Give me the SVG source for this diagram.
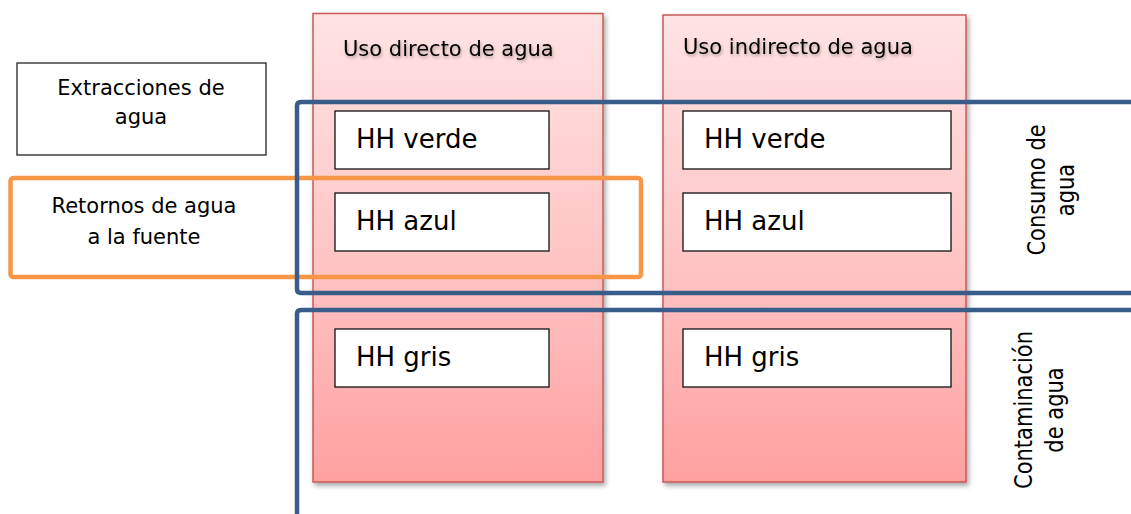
<svg xmlns="http://www.w3.org/2000/svg" width="1131" height="514" viewBox="0 0 1131 514">
  <defs>
    <linearGradient id="pinkFill" x1="0" y1="0" x2="0" y2="1">
      <stop offset="0" stop-color="#FFE3E3"/>
      <stop offset="0.5" stop-color="#FFC6C6"/>
      <stop offset="1" stop-color="#FFA0A0"/>
    </linearGradient>
    <filter id="colShadow" x="-10%" y="-10%" width="125%" height="125%">
      <feDropShadow dx="2" dy="3" stdDeviation="2.5" flood-color="#000" flood-opacity="0.35"/>
    </filter>
    <filter id="textShadow" x="-10%" y="-40%" width="120%" height="190%">
      <feDropShadow dx="1" dy="2" stdDeviation="1.5" flood-color="#000" flood-opacity="0.3"/>
    </filter>
    <style>
      text { font-family: "DejaVu Sans", Verdana, sans-serif; fill: #000; }
      .col { fill: url(#pinkFill); stroke: #C9595A; stroke-width: 1.5; filter: url(#colShadow); }
      .title { font-size: 21px; filter: url(#textShadow); }
      .hh { fill: #FFF; stroke: #111; stroke-width: 1.3; }
      .hhText { font-size: 26px; }
      .label { font-size: 21px; text-anchor: middle; }
      .blue { fill: none; stroke: #385D8A; stroke-width: 4.5; }
      .orange { fill: none; stroke: #F79646; stroke-width: 4.5; }
    </style>
  </defs>

  <rect width="1131" height="514" fill="#FFF"/>

  <!-- Direct use column -->
  <g id="uso-directo">
    <rect class="col" x="313" y="13.5" width="290" height="468.5"/>
    <text class="title" x="343" y="56">Uso directo de agua</text>
  </g>

  <!-- Indirect use column -->
  <g id="uso-indirecto">
    <rect class="col" x="663" y="15" width="303" height="467"/>
    <text class="title" x="683" y="54">Uso indirecto de agua</text>
  </g>

  <!-- Water footprint boxes, direct -->
  <g id="directo-verde">
    <rect class="hh" x="335" y="111" width="214" height="58"/>
    <text class="hhText" x="356" y="147.5">HH verde</text>
  </g>
  <g id="directo-azul">
    <rect class="hh" x="335" y="193" width="214" height="58"/>
    <text class="hhText" x="356" y="230">HH azul</text>
  </g>
  <g id="directo-gris">
    <rect class="hh" x="335" y="329" width="214" height="58"/>
    <text class="hhText" x="356" y="366">HH gris</text>
  </g>

  <!-- Water footprint boxes, indirect -->
  <g id="indirecto-verde">
    <rect class="hh" x="683" y="111" width="268" height="58"/>
    <text class="hhText" x="704" y="147.5">HH verde</text>
  </g>
  <g id="indirecto-azul">
    <rect class="hh" x="683" y="193" width="268" height="58"/>
    <text class="hhText" x="704" y="230">HH azul</text>
  </g>
  <g id="indirecto-gris">
    <rect class="hh" x="683" y="329" width="268" height="58"/>
    <text class="hhText" x="704" y="366">HH gris</text>
  </g>

  <!-- Withdrawals -->
  <g id="extracciones">
    <rect x="17" y="63" width="249" height="92" fill="#FFF" stroke="#222" stroke-width="1.3"/>
    <text class="label" x="141" y="95">Extracciones de</text>
    <text class="label" x="141" y="124">agua</text>
  </g>

  <!-- Return flows frame -->
  <g id="retornos">
    <rect class="orange" x="10.5" y="178" width="630.5" height="99" rx="3"/>
    <text class="label" x="144" y="213">Retornos de agua</text>
    <text class="label" x="144" y="244">a la fuente</text>
  </g>

  <!-- Bracket frames -->
  <g id="connectors">
    <path class="blue" d="M1131 102 H301 Q297 102 297 106 V289 Q297 293 301 293 H1131"/>
    <path class="blue" d="M1131 310 H301 Q297 310 297 314 V514"/>
  </g>

  <!-- Side labels -->
  <g id="consumo">
    <g transform="translate(1045 190) rotate(-90) scale(1 1.2)">
      <text class="label" x="0" y="0">Consumo de</text>
      <text class="label" x="0" y="24">agua</text>
    </g>
  </g>
  <g id="contaminacion">
    <g transform="translate(1032 410) rotate(-90) scale(1 1.2)">
      <text class="label" x="0" y="0">Contaminación</text>
      <text class="label" x="0" y="26">de agua</text>
    </g>
  </g>
</svg>
